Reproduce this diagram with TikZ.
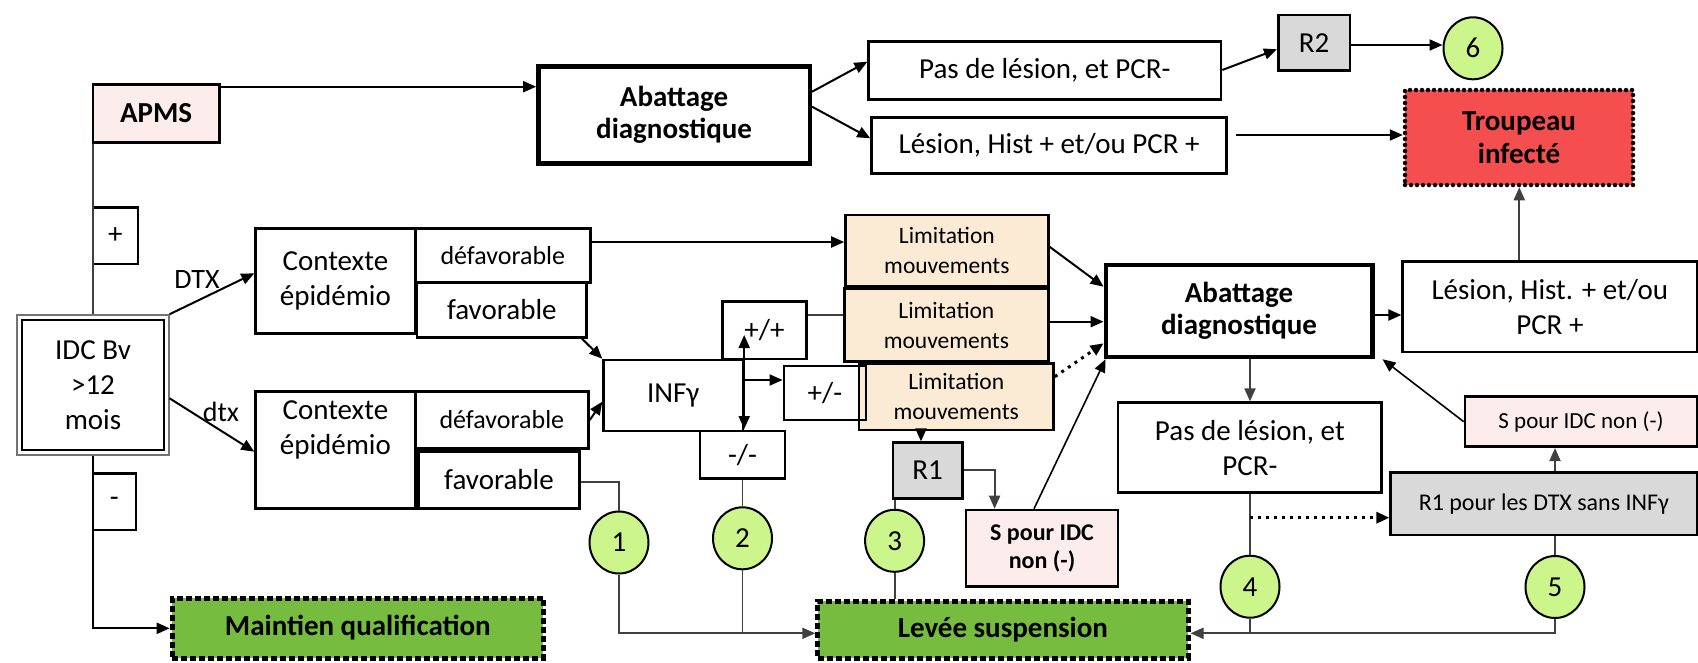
\documentclass[tikz,border=0pt]{standalone}
\usepackage{fontspec}
\setmainfont{Carlito}
\usetikzlibrary{arrows.meta,fit,shapes.geometric}
\newcommand{\myfs}[2]{\fontsize{#1}{#2}\selectfont}
\definecolor{lgreen}{RGB}{204,246,140}
\definecolor{ggreen}{RGB}{118,188,62}
\definecolor{rred}{RGB}{244,78,78}
\definecolor{beige}{RGB}{251,234,212}
\definecolor{pinkd}{RGB}{252,236,236}
\definecolor{lgray}{RGB}{217,217,217}
\begin{document}
\begin{tikzpicture}[x=1pt,y=-1pt,
  rect/.style n args={4}{at={({(#1+#3)/2},{(#2+#4)/2})},minimum width={((#3)-(#1))*1pt},minimum height={((#4)-(#2))*1pt}},
  box/.style={draw,line width=2.6pt,inner sep=0pt,align=center,font=\myfs{29}{35}},
  bbox/.style={box,line width=4.5pt,font=\bfseries\myfs{29}{32}},
  gbox/.style={box,fill=ggreen,line width=5pt,dash pattern=on 6pt off 3pt,font=\bfseries\myfs{29}{35}},
  rbox/.style={box,fill=rred,line width=4.5pt,dash pattern=on 0pt off 6pt,line cap=round,font=\bfseries\myfs{29}{33}},
  limbox/.style={box,fill=beige,font=\myfs{23.5}{30}},
  sbox/.style={box,fill=pinkd},
  grbox/.style={box,fill=lgray},
  circ/.style={ellipse,draw,line width=2pt,fill=lgreen,minimum width=59pt,minimum height=62pt,inner sep=0pt,font=\myfs{29}{35}},
  arr/.style={draw=black,line width=2pt,-{Triangle[length=13pt,width=11pt]}},
  dblarr/.style={draw=black,line width=2pt,{Triangle[length=13pt,width=11pt]}-{Triangle[length=13pt,width=11pt]}},
  ln/.style={draw=black!75,line width=1.8pt},
  garr/.style={draw=black!75,line width=1.8pt,-{Triangle[length=13pt,width=11pt]}},
  dotarr/.style={draw=black,line width=3pt,dash pattern=on 3pt off 5pt,-{Triangle[length=13pt,width=11pt]}},
  lbl/.style={inner sep=0pt,font=\myfs{28}{30}}
]
\useasboundingbox (0,0) rectangle (1698,662);

% left column
\node[sbox,font=\bfseries\myfs{29}{35},rect={93}{84.3}{219.3}{142.3}] (apms) {APMS};
\node[box,rect={93}{207.3}{137.8}{264}] (plus) {+};
\node[box,rect={93}{473.3}{135.8}{530}] (minus) {-};
\node[box,line width=2.4pt,rect={22.2}{320}{163.8}{450}] (idc) {IDC Bv\\>12\\mois};
\node[draw=black!55,line width=1.5pt,inner sep=3.8pt,fit=(idc)] (idco) {};
\node[gbox,rect={172.2}{598}{543.4}{658}] (mq) {Maintien qualification};
\node[lbl] (ldtx) at (197,280) {DTX};
\node[lbl] (ldtx2) at (221,412) {dtx};

% contexte boxes
\node[box,rect={255.6}{228.3}{415.2}{333.3}] (ctx1) {Contexte\\épidémio};
\node[box,font=\myfs{26}{30},rect={415.2}{228.3}{590.4}{282.7}] (dfv1) {défavorable};
\node[box,rect={417}{282.7}{586.6}{337.3}] (fv1) {favorable};
\node[box,rect={255.6}{391.7}{415.2}{508.3}] (ctx2) {Contexte\\épidémio\\[10pt]};
\node[box,font=\myfs{26}{30},rect={415.2}{391.7}{588.5}{448.3}] (dfv2) {défavorable};
\node[box,rect={418.3}{451.7}{579.7}{508.3}] (fv2) {favorable};

% top row
\node[bbox,rect={538.4}{66.7}{809.8}{163.3}] (ab1) {Abattage\\diagnostique};
\node[box,rect={868.7}{41.7}{1221}{99.3}] (pt) {Pas de lésion, et PCR-};
\node[box,rect={871.6}{117.3}{1226.7}{173.3}] (lt) {Lésion, Hist + et/ou PCR +};
\node[grbox,rect={1278.3}{15}{1350}{70.7}] (r2) {R2};
\node[circ] (c6) at (1473,48.3) {6};
\node[rbox,rect={1405}{90}{1633}{185}] (tr) {Troupeau\\infecté};

% INF region
\node[box,rect={603.6}{360}{742.9}{431}] (inf) {INFγ};
\node[box,rect={722.5}{301.7}{806.4}{359}] (pp) {+/+};
\node[box,rect={700}{431}{785}{478.3}] (mm) {-/-};
\node[limbox,rect={845.5}{215}{1048.2}{286.7}] (lim1) {Limitation\\mouvements};
\node[limbox,rect={844.6}{288.3}{1048.2}{361.7}] (lim2) {Limitation\\mouvements};
\node[limbox,rect={858.9}{363.3}{1053.5}{430}] (lim3) {Limitation\\mouvements};
\node[box,rect={783.9}{366}{866}{420}] (pm) {+/-};
\node[grbox,rect={892.8}{442.7}{962.4}{498.3}] (r1) {R1};
\node[sbox,font=\bfseries\myfs{24}{28},rect={966}{510}{1118}{586.7}] (sl) {S pour IDC\\non (-)};
\node[gbox,rect={817.8}{601}{1188}{658}] (lv) {Levée suspension};

% circles
\node[circ] (c1) at (619,542.5) {1};
\node[circ] (c2) at (742.5,538.3) {2};
\node[circ] (c3) at (894.6,540.8) {3};
\node[circ] (c4) at (1250,586.7) {4};
\node[circ] (c5) at (1555,587) {5};

% right part
\node[bbox,rect={1105.8}{265}{1372.3}{357}] (ab2) {Abattage\\diagnostique};
\node[box,rect={1402.7}{261.7}{1697}{352}] (l2) {Lésion, Hist. + et/ou\\PCR +};
\node[box,rect={1118}{402.7}{1381.7}{492.7}] (pb) {Pas de lésion, et\\PCR-};
\node[sbox,font=\myfs{23}{28},rect={1465}{396.7}{1697}{446.7}] (sr) {S pour IDC non (-)};
\node[grbox,font=\myfs{24}{28},rect={1390.7}{472.7}{1697}{535}] (rd) {R1 pour les DTX sans INFγ};

% connectors: left
\draw[ln] (idco.north -| 92.6,0) -- (apms.south -| 92.6,0);
\draw[arr] (idco.south -| 92.6,0) |- (mq.west |- 0,628.3);
\draw[arr] (apms.east |- 0,86.7) -- (ab1.west |- 0,86.7);
\draw[arr] (idco.north east) -- (ctx1.west |- 0,273.3);
\draw[arr] (idco.east |- 0,398.3) -- (ctx2.west |- 0,451.7);

% top
\draw[arr] (ab1.east |- 0,91.7) -- (pt.west |- 0,61.7);
\draw[arr] (ab1.east |- 0,106.7) -- (lt.west |- 0,138.3);
\draw[arr] (pt.east |- 0,70) -- (r2.west |- 0,49.3);
\draw[arr] (r2.east |- 0,45) -- (c6.west |- 0,45);
\draw[arr,shorten <=8pt] (lt.east |- 0,135) -- (tr.west |- 0,135);
\draw[garr] (l2.north -| 1519.3,0) -- (tr.south -| 1519.3,0);

% middle
\draw[arr] (dfv1.east |- 0,242) -- (lim1.west |- 0,242);
\draw[arr] ([xshift=-6pt]fv1.south east) -- (inf.north west);
\draw[arr] (dfv2.east |- 0,420) -- (inf.west |- 0,401.7);
\draw[ln] (fv2.east |- 0,481.7) -| (c1.north);
\draw[arr,draw=black!75,line width=1.8pt] (c1.south) |- (lv.west |- 0,633.3);
\draw[ln] (mm.south) -- (c2.north);
\draw[ln] (c2.south) -- (c2 |- 0,633.3);
\draw[dblarr] (inf.east |- 0,335) -- (inf.east |- 0,429);
\draw[arr] (inf.east |- 0,380) -- (pm.west |- 0,380);
\draw[ln] (pp.east |- 0,315) -- (lim2.west |- 0,315);
\draw[arr] (lim1.east |- 0,246.7) -- (ab2.west |- 0,286.7);
\draw[arr] (lim2.east |- 0,321.7) -- (ab2.west |- 0,321.7);
\draw[dotarr] (lim3.east |- 0,376.7) -- (ab2.west |- 0,343.3);
\draw[arr] (lim3.south -| 921,0) -- (r1.north -| 921,0);
\draw[garr] (r1.east |- 0,470) -| (sl.north -| 994.6,0);
\draw[ln] (c3.north |- r1.south) -- (c3.north);
\draw[ln] (c3.south) -- (c3 |- lv.north);
\draw[arr,line width=1.6pt] (sl.north -| 1034,0) -- ([xshift=2pt]ab2.south west);

% right
\draw[arr] (ab2.east |- 0,315) -- (l2.west |- 0,315);
\draw[garr] (ab2.south -| c4) -- (pb.north -| c4);
\draw[ln] (pb.south -| c4) -- (c4.north);
\draw[arr,draw=black!75,line width=1.8pt] (c4.south) |- (lv.east |- 0,633.3);
\draw[dotarr] (c4 |- 0,517.7) -- (rd.west |- 0,517.7);
\draw[garr] (rd.north -| c5) -- (sr.south -| c5);
\draw[arr,line width=1.6pt] (sr.west) -- ([xshift=8pt]ab2.south east);
\draw[ln] (rd.south -| c5) -- (c5.north);
\draw[ln] (c5.south) |- (c4 |- 0,633.3);
\end{tikzpicture}
\end{document}
